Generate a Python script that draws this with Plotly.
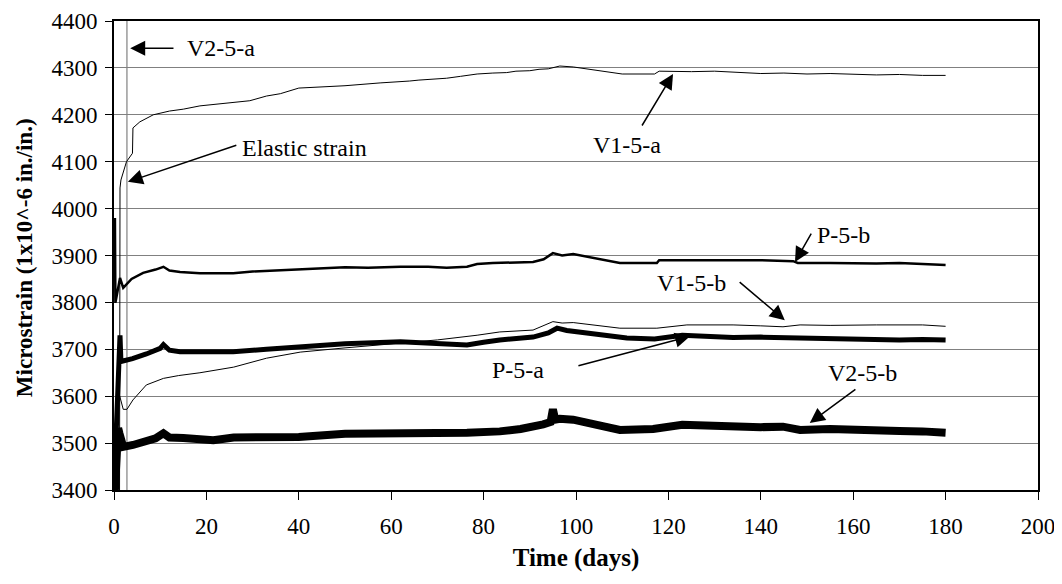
"""Microstrain vs time for the five gauges, with callout arrows."""

from plotly import graph_objects as go

# ---- data ----
v1_5a_days = [1.2, 1.3, 1.5, 2.7, 4.0, 4.1, 5.6, 8.5, 12, 15, 18.6, 22, 25, 29.4, 33, 36, 40,
              45, 50, 57.6, 60, 64, 66, 69, 72, 75, 78.6, 82, 85, 87, 90, 92, 94, 96.5, 99.4,
              110, 117, 118, 125, 130, 135, 140, 145, 150, 155, 160, 165, 170, 175, 180]
v1_5a_strain = [3400, 4044, 4061, 4100, 4118, 4172, 4185, 4200, 4208, 4212, 4219, 4222, 4226,
                4230, 4240, 4245, 4257, 4259, 4262, 4268, 4269, 4272, 4274, 4276, 4278, 4282,
                4287, 4289, 4290, 4293, 4294, 4297, 4298, 4304, 4302, 4287, 4287, 4293, 4292,
                4293, 4290, 4288, 4289, 4287, 4288, 4287, 4285, 4286, 4284, 4284]

p_5b_days = [0.2, 0.3, 1.3, 2.0, 3.8, 6.3, 9, 10.7, 12, 14.3, 18.6, 22, 25.8, 30, 35, 40, 45,
             50, 55, 62, 68, 72, 76.4, 78.6, 82, 86, 90.7, 93, 95, 97, 99.4, 109.5, 113, 117.5,
             118, 125, 132, 140, 147, 148, 155, 160, 165, 170, 175, 180]
p_5b_strain = [3980, 3799, 3852, 3831, 3850, 3863, 3870, 3876, 3868, 3865, 3862, 3862, 3862,
               3866, 3868, 3870, 3873, 3875, 3874, 3876, 3876, 3874, 3876, 3882, 3884, 3885,
               3886, 3892, 3905, 3900, 3903, 3884, 3884, 3884, 3890, 3890, 3889, 3890, 3888,
               3884, 3884, 3883, 3883, 3884, 3882, 3880]

p_5a_days = [0.3, 0.8, 1.3, 1.5, 4, 7, 10, 10.7, 12, 14.3, 20, 25.8, 33, 40, 50, 62, 69, 76.4,
             80, 83.5, 90.7, 94, 95.9, 98, 111, 117, 123, 128, 134, 140, 148.5, 155, 159.3,
             165, 170, 175, 180]
p_5a_strain = [3480, 3640, 3730, 3674, 3680, 3690, 3702, 3710, 3698, 3695, 3695, 3695, 3700,
               3705, 3712, 3716, 3713, 3709, 3715, 3720, 3726, 3735, 3745, 3740, 3724, 3722,
               3730, 3728, 3725, 3726, 3724, 3722, 3721, 3722, 3720, 3721, 3720]

v1_5b_days = [0.6, 1.0, 2.0, 2.8, 4.1, 7, 10.7, 14, 18.6, 25.9, 33, 40.3, 50, 60, 70, 78.6,
              83.5, 90.7, 95, 97, 99.4, 109.5, 117.5, 124, 134, 140, 144.8, 148.5, 155, 165,
              175, 180]
v1_5b_strain = [3555, 3609, 3572, 3572, 3592, 3624, 3638, 3644, 3650, 3662, 3681, 3694, 3703,
                3712, 3720, 3730, 3737, 3741, 3759, 3756, 3757, 3745, 3745, 3752, 3752, 3750,
                3748, 3752, 3751, 3752, 3752, 3749]

v2_5b_days = [0.2, 0.5, 0.9, 1.2, 2.0, 4.1, 7, 9, 10.7, 12, 15, 18.6, 21.5, 25.9, 33, 40, 50,
              62, 69, 76.4, 83.5, 88, 92.9, 94.5, 95, 95.5, 96.5, 99.4, 109.5, 116.7, 123, 128,
              134, 140, 144.8, 148.5, 155, 159.3, 165, 170, 175, 180]
v2_5b_strain = [3400, 3480, 3532, 3520, 3492, 3496, 3502, 3510, 3521, 3512, 3511, 3510, 3506,
                3512, 3513, 3513, 3520, 3520, 3518, 3522, 3525, 3530, 3540, 3545, 3572, 3550,
                3552, 3550, 3528, 3530, 3539, 3537, 3535, 3534, 3535, 3528, 3530, 3528, 3527,
                3526, 3525, 3522]

v2_5a_days = [2.8, 2.8]
v2_5a_strain = [3400, 4400]

# label text, arrow head (x, y), arrow tail (x, y), label centre (x, y)
callouts = [
    ("V2-5-a", (3.5, 4342), (13.2, 4342), (23.2, 4342)),
    ("Elastic strain", (3.0, 4057), (26.8, 4136), (41.3, 4129)),
    ("V1-5-a", (121.0, 4287), (114.1, 4174), (111.0, 4136)),
    ("P-5-b", (147.4, 3886), (151.1, 3950), (158.0, 3944)),
    ("V1-5-b", (145.2, 3762), (135.1, 3846), (124.9, 3841)),
    ("P-5-a", (124.7, 3728), (100.2, 3664), (87.4, 3656)),
    ("V2-5-b", (150.6, 3543), (160.8, 3617), (162.1, 3649)),
]

FONT = "Liberation Serif, Times New Roman, serif"

fig = go.Figure()

series = [
    ("V2-5-a", v2_5a_days, v2_5a_strain, "#808080", 1.2),
    ("V1-5-a", v1_5a_days, v1_5a_strain, "black", 1),
    ("V1-5-b", v1_5b_days, v1_5b_strain, "black", 1),
    ("V2-5-b", v2_5b_days, v2_5b_strain, "black", 8),
    ("P-5-a", p_5a_days, p_5a_strain, "black", 5),
    ("P-5-b", p_5b_days, p_5b_strain, "black", 2.5),
]
for name, xs, ys, color, width in series:
    fig.add_trace(go.Scatter(
        x=xs, y=ys, mode="lines", name=name,
        line=dict(color=color, width=width),
    ))

for label, head, tail, centre in callouts:
    fig.add_annotation(
        x=head[0], y=head[1], ax=tail[0], ay=tail[1],
        axref="x", ayref="y", text="", showarrow=True,
        arrowhead=2, arrowsize=2, arrowwidth=1.5, arrowcolor="black",
    )
    fig.add_annotation(
        x=centre[0], y=centre[1], text=label, showarrow=False,
        font=dict(family=FONT, size=24, color="black"),
    )

# y-axis title placed by hand so it sits where the reference has it
fig.add_annotation(
    xref="paper", yref="paper", x=-0.096, y=0.495, textangle=-90,
    xanchor="center", yanchor="middle",
    text="<b>Microstrain (1x10^-6 in./in.)</b>", showarrow=False,
    font=dict(family=FONT, size=23, color="black"),
)

# the page body adds an 8px offset, so margins are shifted to compensate
fig.update_layout(
    width=1062, height=584,
    margin=dict(l=106, r=32, t=13, b=102),
    paper_bgcolor="white", plot_bgcolor="white",
    showlegend=False,
    font=dict(family=FONT, size=23, color="black"),
    xaxis=dict(
        range=[0, 200], dtick=20, showgrid=False, zeroline=False, automargin=False,
        showline=True, linecolor="black", linewidth=2, mirror=True,
        ticks="outside", ticklen=8, tickcolor="black", tickwidth=1,
        ticklabelstandoff=6,
        title=dict(text="<b>Time (days)</b>", font=dict(family=FONT, size=25), standoff=11),
    ),
    yaxis=dict(
        range=[3400, 4400], dtick=100, showgrid=True, gridcolor="#808080", gridwidth=1,
        zeroline=False, automargin=False,
        showline=True, linecolor="black", linewidth=2, mirror=True,
        ticks="outside", ticklen=7, tickcolor="black", tickwidth=1,
        ticklabelstandoff=3,
    ),
)

fig.write_html("out.html")
